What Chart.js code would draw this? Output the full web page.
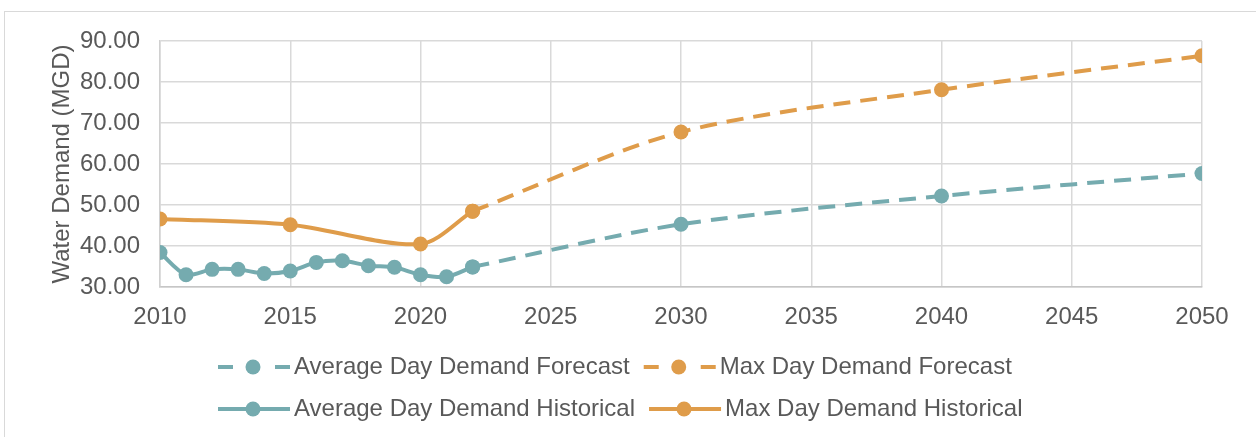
<!DOCTYPE html>
<html>
<head>
<meta charset="utf-8">
<script src="https://cdn.jsdelivr.net/npm/chart.js@4/dist/chart.umd.min.js"></script>
<style>
  body { margin: 0; background: #fff; }
  #frame { position: absolute; left: 4px; top: 11px; width: 1400px; height: 600px; border: 1px solid #d9d9d9; }
  #wrap { position: absolute; left: 0; top: 0; width: 1256px; height: 437px; }
</style>
</head>
<body>
<div id="frame"></div>
<div id="wrap"><canvas id="myChart" width="1256" height="437"></canvas></div>
<script>
// Data
const histYears = [2010, 2011, 2012, 2013, 2014, 2015, 2016, 2017, 2018, 2019, 2020, 2021, 2022];
const avgHist = [38.4, 33.0, 34.3, 34.3, 33.3, 33.9, 36.0, 36.4, 35.2, 34.8, 33.0, 32.5, 34.9];

const maxHistYears = [2010, 2015, 2020, 2022];
const maxHist = [46.6, 45.2, 40.5, 48.5];

const forecastYears = [2022, 2030, 2040, 2050];
const avgForecast = [34.9, 45.3, 52.2, 57.7];
const maxForecast = [48.5, 67.8, 78.1, 86.4];

const TEAL = '#75abaf';
const ORANGE = '#df9c4a';
const TEXT = '#595959';
const FONT = "'Liberation Sans', Arial, sans-serif";
const FONT_SIZE = 24;

function pairs(xs, ys) {
    return xs.map((x, i) => ({ x: x, y: ys[i] }));
}

function series(label, xs, ys, color, dashed) {
    return {
        label: label,
        data: pairs(xs, ys),
        borderColor: color,
        backgroundColor: color,
        borderWidth: 4,
        borderDash: dashed ? [17, 10] : [],
        pointRadius: 7.5,
        pointBorderWidth: 0,
        pointBackgroundColor: color,
        tension: 0.3,
        dashed: dashed,
    };
}

const data = {
    datasets: [
        series('Average Day Demand Forecast', forecastYears, avgForecast, TEAL, true),
        series('Max Day Demand Forecast', forecastYears, maxForecast, ORANGE, true),
        series('Average Day Demand Historical', histYears, avgHist, TEAL, false),
        series('Max Day Demand Historical', maxHistYears, maxHist, ORANGE, false),
    ]
};

// Legend: two rows, each entry shows the line sample with its marker
const lineLegend = {
    id: 'lineLegend',
    afterDraw(chart) {
        const ctx = chart.ctx;
        const rows = [[0, 1], [2, 3]];
        const rowY = [367, 409];
        ctx.save();
        ctx.font = FONT_SIZE + 'px ' + FONT;
        ctx.textBaseline = 'middle';
        rows.forEach((row, r) => {
            let x = 218;
            const y = rowY[r];
            row.forEach(i => {
                const ds = chart.data.datasets[i];
                ctx.strokeStyle = ds.borderColor;
                ctx.fillStyle = ds.borderColor;
                ctx.lineWidth = 4;
                ctx.beginPath();
                if (ds.dashed) {
                    ctx.moveTo(x, y); ctx.lineTo(x + 15, y);
                    ctx.moveTo(x + 57, y); ctx.lineTo(x + 72, y);
                } else {
                    ctx.moveTo(x, y); ctx.lineTo(x + 72, y);
                }
                ctx.stroke();
                ctx.beginPath();
                ctx.arc(x + 35, y, 7.5, 0, Math.PI * 2);
                ctx.fill();
                ctx.fillStyle = TEXT;
                ctx.fillText(ds.label, x + 76, y);
                x += 76 + ctx.measureText(ds.label).width + 14;
            });
        });
        ctx.restore();
    }
};

// Config
const config = {
    type: 'line',
    data: data,
    options: {
        responsive: false,
        animation: false,
        layout: { padding: { left: 44, right: 54, top: 41, bottom: 105 } },
        scales: {
            x: {
                type: 'linear',
                min: 2010,
                max: 2050,
                afterFit(scale) { scale.height = 45; },
                ticks: {
                    stepSize: 5,
                    padding: 16,
                    color: TEXT,
                    font: { family: FONT, size: FONT_SIZE },
                    callback: v => String(v),
                },
                grid: { color: '#d9d9d9', lineWidth: 1.5, drawTicks: false },
                border: { color: '#c6c6c6', width: 1.5 },
            },
            y: {
                min: 30,
                max: 90,
                afterFit(scale) { scale.width = 116; },
                ticks: {
                    stepSize: 10,
                    padding: 20,
                    color: TEXT,
                    font: { family: FONT, size: FONT_SIZE },
                    callback: v => v.toFixed(2),
                },
                title: {
                    display: true,
                    text: 'Water Demand (MGD)',
                    color: TEXT,
                    font: { family: FONT, size: FONT_SIZE },
                },
                grid: { color: '#d9d9d9', lineWidth: 1.5, drawTicks: false },
                border: { color: '#d0d0d0', width: 1.5 },
            }
        },
        plugins: {
            legend: { display: false },
            tooltip: { enabled: false },
        }
    },
    plugins: [lineLegend],
};

const myChart = new Chart(document.getElementById('myChart'), config);
</script>
</body>
</html>
